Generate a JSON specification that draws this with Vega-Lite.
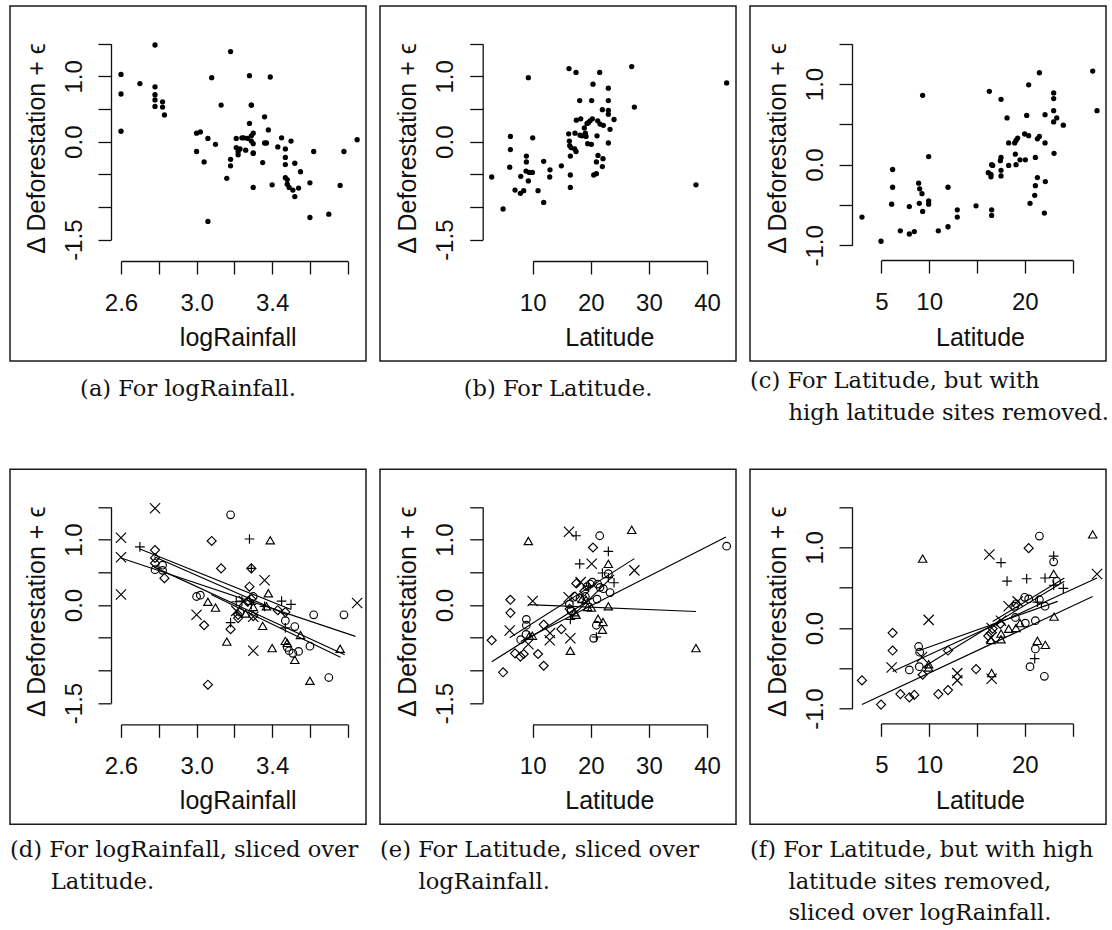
{
  "$schema": "https://vega.github.io/schema/vega-lite/v6.json",
  "padding": {"left": 9, "top": 5, "right": 2, "bottom": 2},
  "background": "white",
  "datasets": {
    "A": [
      {"x":2.60,"y":1.03,"s":"x"},{"x":2.60,"y":0.73,"s":"x"},{"x":2.60,"y":0.16,"s":"x"},{"x":2.70,"y":0.89,"s":"p"},
      {"x":2.78,"y":1.48,"s":"x"},{"x":2.78,"y":0.84,"s":"d"},{"x":2.78,"y":0.72,"s":"d"},{"x":2.78,"y":0.64,"s":"d"},
      {"x":2.78,"y":0.54,"s":"o"},{"x":2.82,"y":0.61,"s":"o"},{"x":2.82,"y":0.53,"s":"o"},{"x":2.83,"y":0.41,"s":"d"},
      {"x":3.08,"y":0.98,"s":"d"},{"x":3.18,"y":1.38,"s":"o"},{"x":3.13,"y":0.56,"s":"d"},{"x":3.28,"y":1.01,"s":"p"},
      {"x":3.39,"y":0.99,"s":"t"},{"x":3.29,"y":0.56,"s":"d"},{"x":3.29,"y":0.56,"s":"p"},{"x":3.36,"y":0.38,"s":"x"},
      {"x":3.28,"y":0.28,"s":"d"},{"x":3.00,"y":0.13,"s":"o"},{"x":3.02,"y":0.15,"s":"o"},{"x":3.06,"y":0.05,"s":"t"},
      {"x":3.10,"y":-0.04,"s":"t"},{"x":3.00,"y":-0.15,"s":"x"},{"x":3.04,"y":-0.31,"s":"d"},{"x":3.18,"y":-0.27,"s":"p"},
      {"x":3.18,"y":-0.37,"s":"d"},{"x":3.16,"y":-0.56,"s":"t"},{"x":3.06,"y":-1.22,"s":"d"},{"x":3.21,"y":0.05,"s":"p"},
      {"x":3.24,"y":0.06,"s":"p"},{"x":3.25,"y":0.06,"s":"x"},{"x":3.27,"y":0.05,"s":"d"},{"x":3.29,"y":0.09,"s":"d"},
      {"x":3.30,"y":0.13,"s":"o"},{"x":3.29,"y":0.01,"s":"p"},{"x":3.30,"y":-0.03,"s":"t"},{"x":3.21,"y":-0.09,"s":"x"},
      {"x":3.22,"y":-0.15,"s":"d"},{"x":3.23,"y":-0.11,"s":"o"},{"x":3.22,"y":-0.20,"s":"d"},{"x":3.26,"y":-0.13,"s":"t"},
      {"x":3.30,"y":-0.18,"s":"x"},{"x":3.30,"y":-0.17,"s":"d"},{"x":3.36,"y":-0.02,"s":"p"},{"x":3.37,"y":-0.02,"s":"t"},
      {"x":3.38,"y":0.18,"s":"t"},{"x":3.35,"y":-0.32,"s":"t"},{"x":3.30,"y":-0.70,"s":"x"},{"x":3.40,"y":-0.66,"s":"t"},
      {"x":3.45,"y":0.06,"s":"p"},{"x":3.43,"y":-0.08,"s":"d"},{"x":3.50,"y":0.01,"s":"p"},{"x":3.47,"y":-0.11,"s":"d"},
      {"x":3.47,"y":-0.24,"s":"o"},{"x":3.47,"y":-0.35,"s":"p"},{"x":3.52,"y":-0.33,"s":"o"},{"x":3.55,"y":-0.46,"s":"t"},
      {"x":3.47,"y":-0.55,"s":"t"},{"x":3.48,"y":-0.58,"s":"t"},{"x":3.48,"y":-0.65,"s":"o"},{"x":3.49,"y":-0.70,"s":"o"},
      {"x":3.51,"y":-0.74,"s":"o"},{"x":3.54,"y":-0.71,"s":"o"},{"x":3.52,"y":-0.84,"s":"t"},{"x":3.60,"y":-0.63,"s":"o"},
      {"x":3.62,"y":-0.15,"s":"o"},{"x":3.60,"y":-1.16,"s":"t"},{"x":3.70,"y":-1.11,"s":"o"},{"x":3.76,"y":-0.67,"s":"t"},
      {"x":3.78,"y":-0.15,"s":"o"},{"x":3.85,"y":0.03,"s":"x"}
    ],
    "B": [
      {"x":2.94,"y":-0.54,"s":"d"},{"x":4.90,"y":-1.03,"s":"d"},{"x":6.16,"y":0.08,"s":"d"},{"x":6.16,"y":-0.12,"s":"d"},
      {"x":6.04,"y":-0.39,"s":"x"},{"x":6.96,"y":-0.74,"s":"d"},{"x":7.88,"y":-0.79,"s":"d"},{"x":8.45,"y":-0.75,"s":"d"},
      {"x":7.94,"y":-0.53,"s":"o"},{"x":8.91,"y":-0.22,"s":"o"},{"x":8.91,"y":-0.31,"s":"o"},{"x":8.85,"y":-0.45,"s":"o"},
      {"x":9.25,"y":-0.60,"s":"x"},{"x":9.43,"y":-0.47,"s":"t"},{"x":9.94,"y":-0.47,"s":"t"},{"x":9.25,"y":0.98,"s":"t"},
      {"x":10.00,"y":0.06,"s":"x"},{"x":10.92,"y":-0.75,"s":"d"},{"x":11.89,"y":-0.30,"s":"d"},{"x":11.89,"y":-0.93,"s":"d"},
      {"x":12.98,"y":-0.43,"s":"x"},{"x":12.93,"y":-0.54,"s":"x"},{"x":14.93,"y":-0.37,"s":"d"},{"x":16.25,"y":1.12,"s":"x"},
      {"x":17.46,"y":1.06,"s":"p"},{"x":16.19,"y":0.12,"s":"x"},{"x":16.31,"y":0.01,"s":"o"},{"x":16.37,"y":-0.06,"s":"d"},
      {"x":16.60,"y":-0.09,"s":"o"},{"x":16.48,"y":-0.22,"s":"p"},{"x":16.48,"y":-0.51,"s":"x"},{"x":16.48,"y":-0.70,"s":"t"},
      {"x":17.23,"y":-0.11,"s":"t"},{"x":17.46,"y":-0.15,"s":"t"},{"x":17.28,"y":0.13,"s":"d"},{"x":17.51,"y":0.33,"s":"d"},
      {"x":18.26,"y":0.35,"s":"x"},{"x":18.09,"y":0.63,"s":"p"},{"x":18.15,"y":0.10,"s":"o"},{"x":18.49,"y":0.09,"s":"t"},
      {"x":18.89,"y":0.21,"s":"d"},{"x":19.06,"y":0.13,"s":"o"},{"x":19.18,"y":0.08,"s":"t"},{"x":19.35,"y":0.28,"s":"o"},
      {"x":19.58,"y":0.29,"s":"p"},{"x":19.87,"y":0.32,"s":"o"},{"x":20.27,"y":0.35,"s":"o"},{"x":19.46,"y":-0.03,"s":"t"},
      {"x":20.10,"y":-0.04,"s":"t"},{"x":20.38,"y":0.88,"s":"d"},{"x":20.15,"y":0.63,"s":"x"},{"x":21.53,"y":1.06,"s":"o"},
      {"x":21.99,"y":0.49,"s":"p"},{"x":21.19,"y":0.32,"s":"o"},{"x":21.59,"y":0.27,"s":"o"},{"x":22.16,"y":0.25,"s":"o"},
      {"x":21.07,"y":0.09,"s":"o"},{"x":23.02,"y":0.82,"s":"p"},{"x":23.02,"y":0.63,"s":"t"},{"x":23.02,"y":0.48,"s":"o"},
      {"x":23.02,"y":0.42,"s":"p"},{"x":24.00,"y":0.34,"s":"p"},{"x":23.31,"y":0.19,"s":"o"},{"x":23.02,"y":-0.02,"s":"t"},
      {"x":21.24,"y":-0.21,"s":"t"},{"x":22.10,"y":-0.26,"s":"t"},{"x":20.96,"y":-0.31,"s":"o"},{"x":21.99,"y":-0.38,"s":"t"},
      {"x":20.50,"y":-0.51,"s":"o"},{"x":20.96,"y":-0.49,"s":"p"},{"x":27.04,"y":1.15,"s":"t"},{"x":27.50,"y":0.53,"s":"x"},
      {"x":38.10,"y":-0.66,"s":"t"},{"x":43.38,"y":0.90,"s":"o"}
    ],
    "C": [
      {"x":2.98,"y":-0.65,"s":"d"},{"x":4.97,"y":-0.95,"s":"d"},{"x":6.18,"y":-0.06,"s":"d"},{"x":6.18,"y":-0.28,"s":"d"},
      {"x":6.08,"y":-0.49,"s":"x"},{"x":6.99,"y":-0.82,"s":"d"},{"x":7.93,"y":-0.52,"s":"o"},{"x":7.93,"y":-0.86,"s":"d"},
      {"x":8.45,"y":-0.83,"s":"d"},{"x":9.32,"y":0.86,"s":"t"},{"x":8.90,"y":-0.23,"s":"o"},{"x":9.01,"y":-0.30,"s":"o"},
      {"x":9.25,"y":-0.36,"s":"x"},{"x":8.97,"y":-0.48,"s":"o"},{"x":9.32,"y":-0.58,"s":"d"},{"x":9.95,"y":0.10,"s":"x"},
      {"x":9.95,"y":-0.45,"s":"t"},{"x":9.95,"y":-0.49,"s":"t"},{"x":10.96,"y":-0.82,"s":"d"},{"x":11.97,"y":-0.28,"s":"d"},
      {"x":11.97,"y":-0.77,"s":"d"},{"x":12.94,"y":-0.56,"s":"x"},{"x":12.94,"y":-0.65,"s":"x"},{"x":14.90,"y":-0.51,"s":"d"},
      {"x":16.29,"y":0.91,"s":"x"},{"x":16.18,"y":-0.10,"s":"d"},{"x":16.46,"y":-0.12,"s":"x"},{"x":16.53,"y":0.00,"s":"x"},
      {"x":16.64,"y":-0.01,"s":"d"},{"x":16.46,"y":-0.15,"s":"t"},{"x":16.53,"y":-0.56,"s":"t"},{"x":16.53,"y":-0.63,"s":"x"},
      {"x":17.51,"y":0.81,"s":"p"},{"x":17.44,"y":0.05,"s":"d"},{"x":17.51,"y":0.09,"s":"x"},{"x":17.51,"y":-0.07,"s":"t"},
      {"x":17.51,"y":-0.14,"s":"t"},{"x":18.14,"y":0.58,"s":"p"},{"x":18.31,"y":0.27,"s":"x"},{"x":18.31,"y":-0.01,"s":"t"},
      {"x":18.94,"y":0.27,"s":"o"},{"x":19.08,"y":0.30,"s":"o"},{"x":19.25,"y":0.33,"s":"x"},{"x":19.01,"y":0.13,"s":"o"},
      {"x":19.08,"y":0.00,"s":"t"},{"x":19.49,"y":0.06,"s":"t"},{"x":20.05,"y":0.06,"s":"o"},{"x":19.98,"y":0.38,"s":"o"},
      {"x":20.40,"y":0.36,"s":"o"},{"x":20.19,"y":0.61,"s":"p"},{"x":20.40,"y":0.99,"s":"d"},{"x":21.10,"y":0.09,"s":"o"},
      {"x":21.31,"y":0.32,"s":"p"},{"x":21.52,"y":0.35,"s":"o"},{"x":21.52,"y":1.14,"s":"o"},{"x":21.31,"y":-0.16,"s":"t"},
      {"x":21.10,"y":-0.26,"s":"o"},{"x":21.03,"y":-0.38,"s":"p"},{"x":20.54,"y":-0.48,"s":"o"},{"x":22.11,"y":0.27,"s":"o"},
      {"x":22.11,"y":0.62,"s":"p"},{"x":22.14,"y":-0.21,"s":"t"},{"x":22.04,"y":-0.60,"s":"o"},{"x":23.01,"y":0.89,"s":"p"},
      {"x":23.01,"y":0.82,"s":"o"},{"x":23.01,"y":0.67,"s":"t"},{"x":23.01,"y":0.53,"s":"p"},{"x":23.33,"y":0.58,"s":"o"},
      {"x":23.05,"y":0.14,"s":"t"},{"x":24.02,"y":0.49,"s":"p"},{"x":27.09,"y":1.16,"s":"t"},{"x":27.54,"y":0.67,"s":"x"}
    ],
    "LD": [
      {"x":2.600,"y":0.72,"x2":3.841,"y2":-0.48},
      {"x":2.697,"y":0.86,"x2":3.500,"y2":-0.07},
      {"x":2.776,"y":0.74,"x2":3.478,"y2":-0.15},
      {"x":2.776,"y":0.58,"x2":3.784,"y2":-0.76},
      {"x":3.077,"y":0.16,"x2":3.762,"y2":-0.80}
    ],
    "LE": [
      {"x":2.945,"y":-0.87,"x2":20.38,"y2":0.11},
      {"x":7.935,"y":-0.56,"x2":43.27,"y2":1.04},
      {"x":6.04,"y":-0.50,"x2":27.5,"y2":0.71},
      {"x":16.48,"y":-0.20,"x2":24.0,"y2":0.46},
      {"x":9.25,"y":0.005,"x2":38.1,"y2":-0.10}
    ],
    "LF": [
      {"x":2.98,"y":-0.95,"x2":27.09,"y2":0.39},
      {"x":6.18,"y":-0.54,"x2":27.54,"y2":0.62},
      {"x":8.97,"y":-0.28,"x2":23.43,"y2":0.33},
      {"x":9.32,"y":-0.49,"x2":24.13,"y2":0.58},
      {"x":16.64,"y":0.08,"x2":24.13,"y2":0.62}
    ]
  },
  "vconcat": [
    {
      "bounds": "flush",
      "spacing": 14,
      "hconcat": [
        {
          "width": 356, "height": 355,
          "title": {"text": "(a) For logRainfall.", "anchor": "middle", "offset": 16.5},
          "data": {"name": "A"},
          "mark": {"type": "circle", "color": "black", "size": 28, "opacity": 1},
          "encoding": {
            "x": {"field": "x", "type": "quantitative",
              "scale": {"domain": [2.6, 3.8], "range": [111, 337.7], "nice": false, "zero": false},
              "axis": {"title": "logRainfall", "values": [2.6, 2.8, 3.0, 3.2, 3.4, 3.6, 3.8], "labelExpr": "datum.value == 2.6 || datum.value == 3 || datum.value == 3.4 ? format(datum.value, '.1f') : ''", "offset": -100, "titleX": 227.7}},
            "y": {"field": "y", "type": "quantitative",
              "scale": {"domain": [-1.5, 1.5], "range": [233.7, 37.7], "nice": false, "zero": false},
              "axis": {"title": "Δ Deforestation + ϵ", "values": [-1.5, -1, -0.5, 0, 0.5, 1, 1.5], "labelExpr": "datum.value == 1 ? '1.0' : datum.value == 0 ? '0.0' : datum.value == -1.5 ? '-1.5' : ''", "offset": -101}}
          }
        },
        {
          "width": 356, "height": 355,
          "title": {"text": "(b) For Latitude.", "anchor": "middle", "offset": 16.5},
          "data": {"name": "B"},
          "mark": {"type": "circle", "color": "black", "size": 28, "opacity": 1},
          "encoding": {
            "x": {"field": "x", "type": "quantitative",
              "scale": {"domain": [10, 40], "range": [152.7, 327], "nice": false, "zero": false},
              "axis": {"title": "Latitude", "values": [10, 20, 30, 40], "offset": -100, "titleX": 229.3}},
            "y": {"field": "y", "type": "quantitative",
              "scale": {"domain": [-1.5, 1.5], "range": [233.7, 37.7], "nice": false, "zero": false},
              "axis": {"title": "Δ Deforestation + ϵ", "values": [-1.5, -1, -0.5, 0, 0.5, 1, 1.5], "labelExpr": "datum.value == 1 ? '1.0' : datum.value == 0 ? '0.0' : datum.value == -1.5 ? '-1.5' : ''", "offset": -102.7}}
          }
        },
        {
          "width": 356, "height": 355,
          "title": {"text": ["(c) For Latitude, but with", "\u200b\u2003\u2002\u2009high latitude sites removed."], "anchor": "start", "offset": 9},
          "data": {"name": "C"},
          "mark": {"type": "circle", "color": "black", "size": 28, "opacity": 1},
          "encoding": {
            "x": {"field": "x", "type": "quantitative",
              "scale": {"domain": [5, 25], "range": [131.3, 322.7], "nice": false, "zero": false},
              "axis": {"title": "Latitude", "values": [5, 10, 15, 20, 25], "labelExpr": "datum.value == 15 || datum.value == 25 ? '' : datum.label", "offset": -101, "titleX": 230, "titleY": 85}},
            "y": {"field": "y", "type": "quantitative",
              "scale": {"domain": [-1, 1.5], "range": [239.3, 37.7], "nice": false, "zero": false},
              "axis": {"title": "Δ Deforestation + ϵ", "values": [-1, -0.5, 0, 0.5, 1, 1.5], "labelExpr": "datum.value == 1 ? '1.0' : datum.value == 0 ? '0.0' : datum.value == -1 ? '-1.0' : ''", "offset": -102}}
          }
        }
      ]
    },
    {
      "bounds": "flush",
      "spacing": 14,
      "hconcat": [
        {
          "width": 356, "height": 355,
          "title": {"text": ["(d) For logRainfall, sliced over", "\u200b\u2003\u2002\u2009\u200aLatitude."], "anchor": "start", "offset": 15},
          "encoding": {
            "x": {"field": "x", "type": "quantitative",
              "scale": {"domain": [2.6, 3.8], "range": [111, 337.7], "nice": false, "zero": false},
              "axis": {"title": "logRainfall", "values": [2.6, 2.8, 3.0, 3.2, 3.4, 3.6, 3.8], "labelExpr": "datum.value == 2.6 || datum.value == 3 || datum.value == 3.4 ? format(datum.value, '.1f') : ''", "offset": -100, "titleX": 227.7}},
            "y": {"field": "y", "type": "quantitative",
              "scale": {"domain": [-1.5, 1.5], "range": [233.7, 37.7], "nice": false, "zero": false},
              "axis": {"title": "Δ Deforestation + ϵ", "values": [-1.5, -1, -0.5, 0, 0.5, 1, 1.5], "labelExpr": "datum.value == 1 ? '1.0' : datum.value == 0 ? '0.0' : datum.value == -1.5 ? '-1.5' : ''", "offset": -101}}
          },
          "layer": [
            {
              "data": {"name": "A"},
              "mark": {"type": "point", "filled": false, "stroke": "black", "strokeWidth": 1.15, "opacity": 1},
              "encoding": {
                "shape": {"field": "s", "type": "nominal", "legend": null, "scale": {"domain": ["o","t","d","p","x"], "range": ["circle","triangle-up","diamond","M-1,0L1,0M0,-1L0,1","M-1,-1L1,1M-1,1L1,-1"]}},
                "size": {"field": "s", "type": "ordinal", "legend": null, "scale": {"domain": ["o","t","d","p","x"], "range": [58, 105, 100, 81, 49]}}
              }
            },
            {
              "data": {"name": "LD"},
              "mark": {"type": "rule", "color": "black", "strokeWidth": 1.15},
              "encoding": {"x2": {"field": "x2"}, "y2": {"field": "y2"}}
            }
          ]
        },
        {
          "width": 356, "height": 355,
          "title": {"text": ["(e) For Latitude, sliced over", "\u200b\u2003\u2002\u2009logRainfall."], "anchor": "start", "offset": 15},
          "encoding": {
            "x": {"field": "x", "type": "quantitative",
              "scale": {"domain": [10, 40], "range": [152.7, 327], "nice": false, "zero": false},
              "axis": {"title": "Latitude", "values": [10, 20, 30, 40], "offset": -100, "titleX": 229.3}},
            "y": {"field": "y", "type": "quantitative",
              "scale": {"domain": [-1.5, 1.5], "range": [233.7, 37.7], "nice": false, "zero": false},
              "axis": {"title": "Δ Deforestation + ϵ", "values": [-1.5, -1, -0.5, 0, 0.5, 1, 1.5], "labelExpr": "datum.value == 1 ? '1.0' : datum.value == 0 ? '0.0' : datum.value == -1.5 ? '-1.5' : ''", "offset": -102.7}}
          },
          "layer": [
            {
              "data": {"name": "B"},
              "mark": {"type": "point", "filled": false, "stroke": "black", "strokeWidth": 1.15, "opacity": 1},
              "encoding": {
                "shape": {"field": "s", "type": "nominal", "legend": null, "scale": {"domain": ["o","t","d","p","x"], "range": ["circle","triangle-up","diamond","M-1,0L1,0M0,-1L0,1","M-1,-1L1,1M-1,1L1,-1"]}},
                "size": {"field": "s", "type": "ordinal", "legend": null, "scale": {"domain": ["o","t","d","p","x"], "range": [58, 105, 100, 81, 49]}}
              }
            },
            {
              "data": {"name": "LE"},
              "mark": {"type": "rule", "color": "black", "strokeWidth": 1.15},
              "encoding": {"x2": {"field": "x2"}, "y2": {"field": "y2"}}
            }
          ]
        },
        {
          "width": 356, "height": 355,
          "title": {"text": ["(f) For Latitude, but with high", "\u200b\u2003\u2002\u2009latitude sites removed,", "\u200b\u2003\u2002\u2009sliced over logRainfall."], "anchor": "start", "offset": 15},
          "encoding": {
            "x": {"field": "x", "type": "quantitative",
              "scale": {"domain": [5, 25], "range": [131.3, 322.7], "nice": false, "zero": false},
              "axis": {"title": "Latitude", "values": [5, 10, 15, 20, 25], "labelExpr": "datum.value == 15 || datum.value == 25 ? '' : datum.label", "offset": -101, "titleX": 230, "titleY": 85}},
            "y": {"field": "y", "type": "quantitative",
              "scale": {"domain": [-1, 1.5], "range": [239.3, 37.7], "nice": false, "zero": false},
              "axis": {"title": "Δ Deforestation + ϵ", "values": [-1, -0.5, 0, 0.5, 1, 1.5], "labelExpr": "datum.value == 1 ? '1.0' : datum.value == 0 ? '0.0' : datum.value == -1 ? '-1.0' : ''", "offset": -102}}
          },
          "layer": [
            {
              "data": {"name": "C"},
              "mark": {"type": "point", "filled": false, "stroke": "black", "strokeWidth": 1.15, "opacity": 1},
              "encoding": {
                "shape": {"field": "s", "type": "nominal", "legend": null, "scale": {"domain": ["o","t","d","p","x"], "range": ["circle","triangle-up","diamond","M-1,0L1,0M0,-1L0,1","M-1,-1L1,1M-1,1L1,-1"]}},
                "size": {"field": "s", "type": "ordinal", "legend": null, "scale": {"domain": ["o","t","d","p","x"], "range": [58, 105, 100, 81, 49]}}
              }
            },
            {
              "data": {"name": "LF"},
              "mark": {"type": "rule", "color": "black", "strokeWidth": 1.15},
              "encoding": {"x2": {"field": "x2"}, "y2": {"field": "y2"}}
            }
          ]
        }
      ]
    }
  ],
  "spacing": 463.3,
  "bounds": "flush",
  "config": {
    "view": {"stroke": "#1a1a1a", "strokeWidth": 1.5},
    "axis": {
      "grid": false, "domainColor": "#111", "domainWidth": 1.3, "tickColor": "#111", "tickWidth": 1.3, "tickSize": 13,
      "labelFont": "Liberation Sans", "labelFontSize": 24, "labelColor": "#111",
      "titleFont": "Liberation Sans", "titleFontSize": 25, "titleFontWeight": "normal", "titleColor": "#111",
      "labelFlush": false, "labelOverlap": false, "labelBound": false
    },
    "axisX": {"labelPadding": 17, "labelAngle": 0, "titleAlign": "center", "titleBaseline": "alphabetic", "titleY": 84},
    "axisY": {"labelAngle": -90, "labelAlign": "center", "labelBaseline": "alphabetic", "labelPadding": 17, "titleAngle": -90, "titleAlign": "center", "titleBaseline": "middle", "titleX": -75, "titleY": 142},
    "title": {"font": "DejaVu Serif", "fontSize": 22.6, "fontWeight": "normal", "color": "#111", "orient": "bottom", "frame": "group", "lineHeight": 31.5}
  }
}
